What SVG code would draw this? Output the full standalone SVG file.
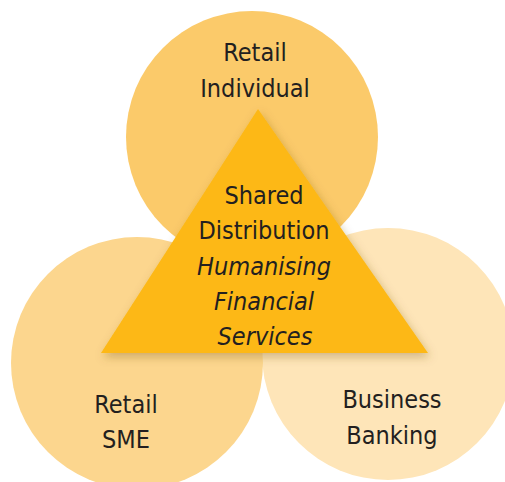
<svg xmlns="http://www.w3.org/2000/svg" width="505" height="482" viewBox="0 0 505 482">
  <defs>
    <filter id="shadow" x="-20%" y="-20%" width="140%" height="140%">
      <feDropShadow dx="2" dy="4" stdDeviation="5" flood-color="#7a5a20" flood-opacity="0.35"/>
    </filter>
    <style>
      .lbl { font-family: "DejaVu Sans Condensed", "DejaVu Sans", sans-serif; font-stretch: condensed; font-size: 25px; fill: #231F20; text-anchor: middle; }
      .it { font-style: italic; }
    </style>
  </defs>
  <rect width="505" height="482" fill="#FFFFFF"/>
  <g id="business-banking">
    <circle cx="388" cy="354" r="126" fill="#FEE5B8"/>
    <text class="lbl" x="392" y="408">Business</text>
    <text class="lbl" x="392" y="444">Banking</text>
  </g>
  <g id="retail-sme">
    <circle cx="137" cy="363" r="126" fill="#FCD68E"/>
    <text class="lbl" x="126" y="413">Retail</text>
    <text class="lbl" x="126" y="448">SME</text>
  </g>
  <g id="retail-individual">
    <circle cx="252" cy="137" r="126" fill="#FBCA6A"/>
    <text class="lbl" x="255" y="61">Retail</text>
    <text class="lbl" x="255" y="97">Individual</text>
  </g>
  <g id="shared-distribution">
    <polygon points="258,109 101,353 428,353" fill="#FDB815" filter="url(#shadow)"/>
    <text class="lbl" x="264" y="204">Shared</text>
    <text class="lbl" x="264" y="239">Distribution</text>
    <text class="lbl it" x="264" y="275">Humanising</text>
    <text class="lbl it" x="264" y="310">Financial</text>
    <text class="lbl it" x="265" y="345">Services</text>
  </g>
  <g id="connectors"/>
</svg>
